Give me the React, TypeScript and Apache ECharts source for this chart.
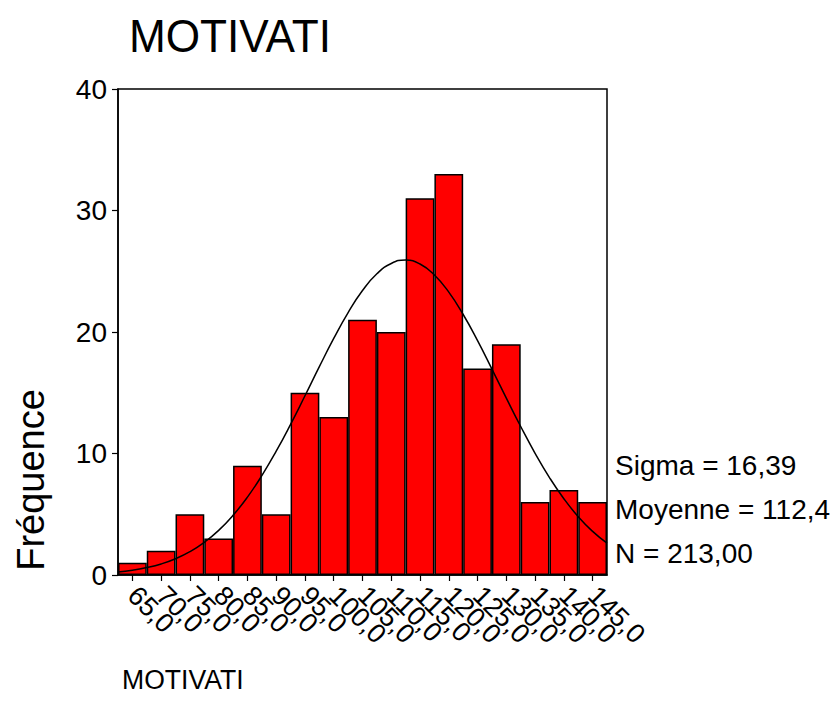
import React, { useEffect, useRef } from "react";
import * as echarts from "echarts";

const binLabels = ["65,0", "70,0", "75,0", "80,0", "85,0", "90,0", "95,0", "100,0", "105,0", "110,0", "115,0", "120,0", "125,0", "130,0", "135,0", "140,0", "145,0"];
const frequencies = [1, 2, 5, 3, 9, 5, 15, 13, 21, 20, 31, 33, 17, 19, 6, 7, 6];
// normal curve overlay, read at every half bin from 62.5 to 147.5
const curveX = [62.5, 65, 67.5, 70, 72.5, 75, 77.5, 80, 82.5, 85, 87.5, 90, 92.5, 95, 97.5, 100, 102.5, 105, 107.5, 110, 112.5, 115, 117.5, 120, 122.5, 125, 127.5, 130, 132.5, 135, 137.5, 140, 142.5, 145, 147.5];
const curveY = [0.25, 0.4, 0.61, 0.91, 1.34, 1.92, 2.69, 3.67, 4.91, 6.41, 8.18, 10.19, 12.4, 14.75, 17.15, 19.47, 21.6, 23.41, 24.79, 25.64, 25.92, 25.6, 24.69, 23.28, 21.44, 19.29, 16.95, 14.56, 12.22, 10.02, 8.02, 6.28, 4.8, 3.59, 2.62];
const yTicks = [0, 10, 20, 30, 40];
const statLines = ["Sigma = 16,39", "Moyenne = 112,4", "N = 213,00"];
const titleText = "MOTIVATI";
const yName = "Fréquence";
const xName = "MOTIVATI";

const FONT = "'Liberation Sans', Arial, sans-serif";

export default function App() {
  const ref = useRef<HTMLDivElement>(null);
  useEffect(() => {
    if (!ref.current) return;
    const chart = echarts.init(ref.current, null, { renderer: "svg" });
    const statY = [465, 509, 553];
    chart.setOption({
      animation: false,
      backgroundColor: "#ffffff",
      textStyle: { fontFamily: FONT, color: "#000" },
      grid: {
        left: 118,
        right: 232,
        top: 89,
        bottom: 145,
        show: true,
        borderColor: "#000",
        borderWidth: 1.5,
        backgroundColor: "transparent",
      },
      xAxis: [
        {
          type: "category",
          data: binLabels,
          boundaryGap: true,
          axisLine: { show: true, lineStyle: { color: "#000", width: 1.5 } },
          axisTick: { show: true, alignWithLabel: true, length: 6, lineStyle: { color: "#000", width: 1.2 } },
          axisLabel: {
            interval: 0,
            rotate: -45,
            margin: 16,
            fontSize: 27,
            color: "#000",
            fontFamily: FONT,
            hideOverlap: false,
          },
          splitLine: { show: false },
        },
        {
          type: "value",
          min: 62.5,
          max: 147.5,
          show: false,
          position: "bottom",
        },
      ],
      yAxis: {
        type: "value",
        min: 0,
        max: 40,
        interval: 10,
        axisLine: { show: true, lineStyle: { color: "#000", width: 1.5 } },
        axisTick: { show: true, length: 6, lineStyle: { color: "#000", width: 1.2 } },
        axisLabel: {
          margin: 11,
          fontSize: 28,
          color: "#000",
          fontFamily: FONT,
          formatter: (v: number) => (yTicks.includes(v) ? String(v) : ""),
        },
        splitLine: { show: false },
      },
      series: [
        {
          type: "bar",
          data: frequencies,
          xAxisIndex: 0,
          barCategoryGap: "0%",
          itemStyle: { color: "#FF0000", borderColor: "#000", borderWidth: 1.5 },
          z: 2,
        },
        {
          type: "line",
          xAxisIndex: 1,
          data: curveX.map((x, i) => [x, curveY[i]]),
          showSymbol: false,
          smooth: true,
          lineStyle: { color: "#000", width: 1.5 },
          z: 3,
        },
      ],
      graphic: [
        {
          type: "text",
          x: 129,
          y: 36,
          scaleX: 0.96,
          style: { text: titleText, fontSize: 46, fill: "#000", fontFamily: FONT, align: "left", verticalAlign: "middle" },
        },
        {
          type: "text",
          x: 31,
          y: 480,
          rotation: Math.PI / 2,
          style: { text: yName, fontSize: 38, fill: "#000", fontFamily: FONT, align: "center", verticalAlign: "middle" },
        },
        {
          type: "text",
          x: 122,
          y: 679,
          scaleX: 0.95,
          style: { text: xName, fontSize: 28, fill: "#000", fontFamily: FONT, align: "left", verticalAlign: "middle" },
        },
        ...statLines.map((t, i) => ({
          type: "text",
          x: 615,
          y: statY[i],
          style: { text: t, fontSize: 28, fill: "#000", fontFamily: FONT, align: "left", verticalAlign: "middle" },
        })),
      ],
    });
    return () => chart.dispose();
  }, []);
  return (
    <div
      ref={ref}
      style={{ position: "fixed", left: 0, top: 0, width: 839, height: 720, background: "#fff" }}
    />
  );
}
